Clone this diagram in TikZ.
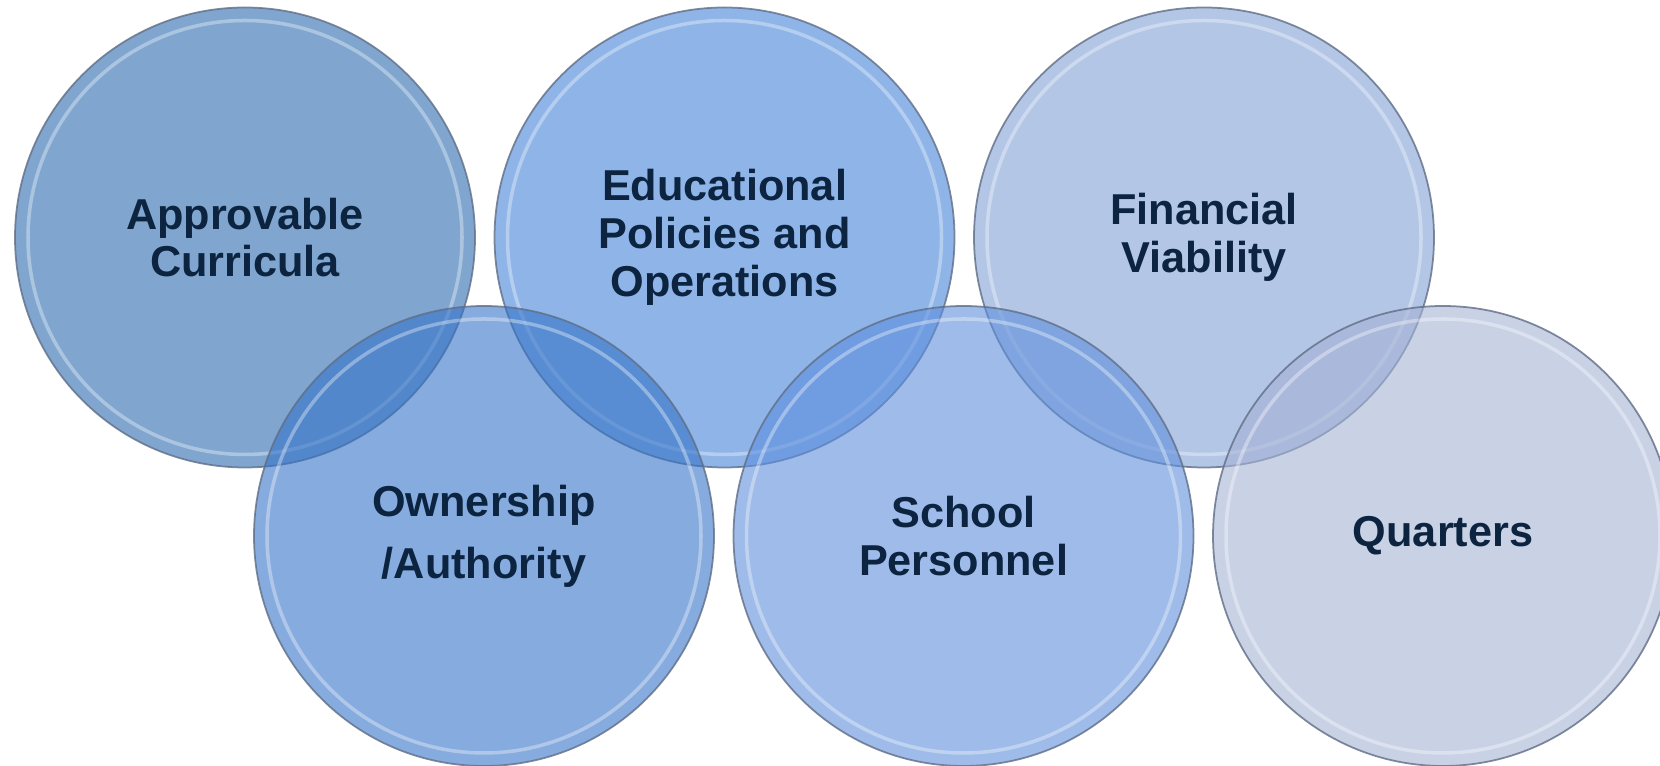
\documentclass[tikz,border=0pt]{standalone}
\usepackage{fontspec}
\setmainfont{Liberation Sans}
\usetikzlibrary{positioning}

\definecolor{txtnavy}{RGB}{12,36,64}
\definecolor{rimgray}{RGB}{96,110,134}
\definecolor{curblue}{RGB}{43,107,177}
\definecolor{edublue}{RGB}{67,130,217}
\definecolor{finblue}{RGB}{128,160,213}
\definecolor{ownblue}{RGB}{53,115,200}
\definecolor{perblue}{RGB}{93,142,220}
\definecolor{quablue}{RGB}{165,178,212}

\begin{document}
\begin{tikzpicture}[auto, node distance=4.795cm, on grid]

% Styles
\tikzstyle{bubble} = [draw=rimgray, draw opacity=0.8, line width=0.5pt, circle,
  minimum size=4.6cm, inner sep=0pt, fill opacity=0.6, text opacity=1,
  text=txtnavy, align=center,
  font=\fontsize{12.3}{13.6}\selectfont\bfseries,
  path picture={\draw[white, opacity=0.35, line width=1pt]
    (path picture bounding box.center) circle (2.17cm);}]

\useasboundingbox (0,0) rectangle (16.6,7.66);

% Top row
\node [bubble, fill=curblue] (ac) at (2.45,5.285) {Approvable\\Curricula};
\node [bubble, fill=edublue, right=of ac] (ep) {Educational\\Policies and\\Operations};
\node [bubble, fill=finblue, right=of ep] (fv) {Financial\\Viability};

% Bottom row
\node [bubble, fill=ownblue, below right=2.985cm and 2.39cm of ac] (oa) {Ownership\\[4pt]/Authority};
\node [bubble, fill=perblue, right=of oa] (sp) {School\\Personnel};
\node [bubble, fill=quablue, right=of sp] (qt) {Quarters};

\end{tikzpicture}
\end{document}
